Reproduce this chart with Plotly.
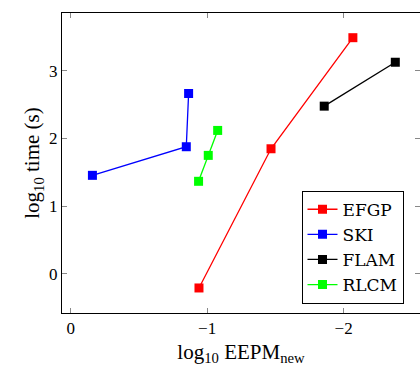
import plotly.graph_objects as go

efgp_x = [-0.94, -1.468, -2.068]
efgp_y = [-0.21, 1.848, 3.49]
ski_x = [-0.159, -0.847, -0.864]
ski_y = [1.455, 1.878, 2.665]
flam_x = [-1.858, -2.379]
flam_y = [2.478, 3.127]
rlcm_x = [-0.937, -1.008, -1.077]
rlcm_y = [1.367, 1.75, 2.119]

x_ticks = [0, -1, -2]
x_tick_labels = ["0", "\u22121", "\u22122"]
y_ticks = [0, 1, 2, 3]

series = [
    ("EFGP", efgp_x, efgp_y, "#ff0000"),
    ("SKI", ski_x, ski_y, "#0000ff"),
    ("FLAM", flam_x, flam_y, "#000000"),
    ("RLCM", rlcm_x, rlcm_y, "#00ff00"),
]

font = "Liberation Serif, DejaVu Serif, serif"
lfont = "DejaVu Serif, serif"

fig = go.Figure()
for name, xs, ys, c in series:
    fig.add_trace(go.Scatter(
        x=xs, y=ys, name=name, mode="lines+markers",
        line=dict(color=c, width=1.3),
        marker=dict(symbol="square", size=9, color=c),
    ))

fig.update_layout(
    width=420, height=370,
    margin=dict(l=62, r=0, t=13, b=57),
    paper_bgcolor="white", plot_bgcolor="white",
    font=dict(family=font, size=16, color="black"),
    showlegend=True,
    legend=dict(
        x=0.669, y=0.031, xanchor="left", yanchor="bottom",
        bordercolor="black", borderwidth=1, bgcolor="white",
        font=dict(family=lfont, size=17),
        tracegroupgap=0, itemwidth=30, entrywidth=74,
    ),
    xaxis=dict(
        range=[0.064, -2.56], tickvals=x_ticks, ticktext=x_tick_labels,
        showgrid=False, zeroline=False, showline=True, linecolor="black", linewidth=1,
        mirror="ticks", ticks="inside", ticklen=5, tickcolor="#888888",
        tickfont=dict(family=font, size=17),
        title=dict(text="log<sub>10</sub> EEPM<sub>new</sub>", font=dict(family=font, size=21), standoff=6),
    ),
    yaxis=dict(
        range=[-0.58, 3.855], tickvals=y_ticks,
        showgrid=False, zeroline=False, showline=True, linecolor="black", linewidth=1,
        mirror="ticks", ticks="inside", ticklen=5, tickcolor="#888888",
        tickfont=dict(family=font, size=17),
        title=dict(text="log<sub>10</sub> time (s)", font=dict(family=font, size=21), standoff=3),
    ),
)

fig.write_html("out.html")
